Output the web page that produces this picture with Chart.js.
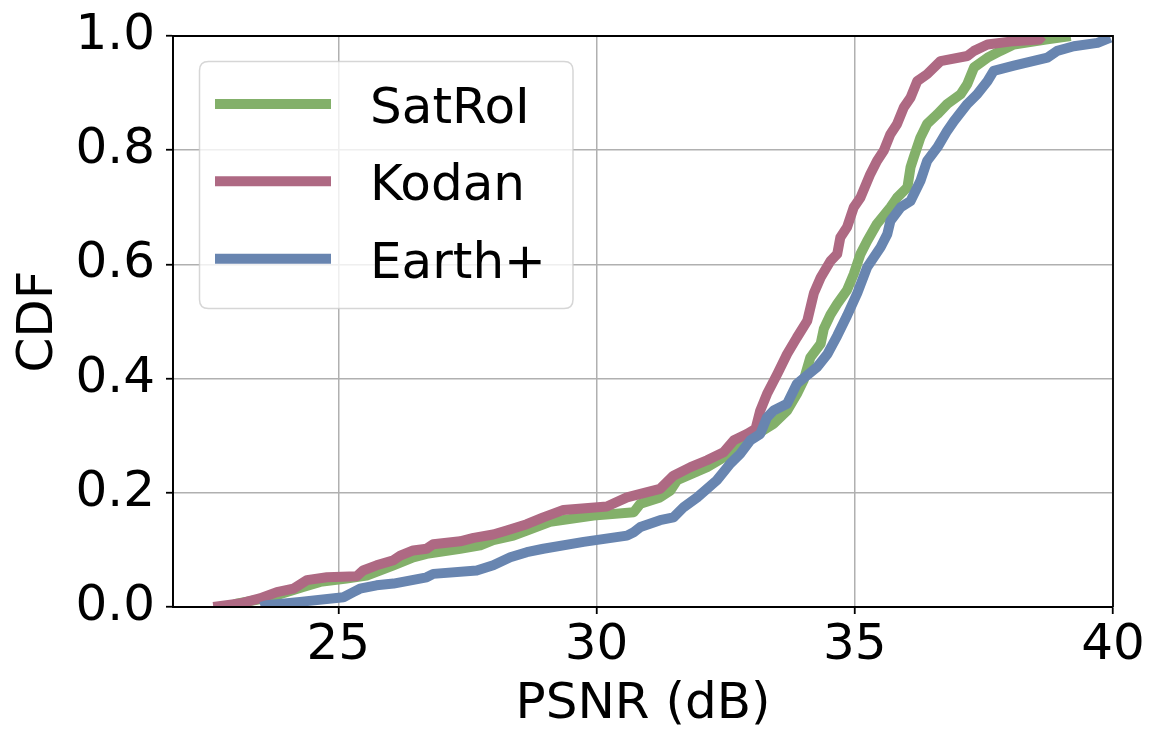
<!DOCTYPE html>
<html>
<head>
<meta charset="utf-8">
<script src="https://cdn.jsdelivr.net/npm/chart.js@4/dist/chart.umd.min.js"></script>
<style>
html,body{margin:0;padding:0;background:#fff;}
#wrap{width:1162px;height:748px;position:relative;}
</style>
</head>
<body>
<div id="wrap"><canvas id="c" width="1162" height="748"></canvas></div>
<script>
// ---- data ----
const seriesNames = ["SatRoI", "Kodan", "Earth+"];
const seriesColors = ["#83b06a", "#ae6983", "#6885b0"];

const satroiX = [22.87, 23.03, 23.68, 24.32, 24.65, 25.16, 25.55, 26.07, 26.45, 26.71, 27.36, 27.75, 28.0, 28.39, 28.65, 29.10, 29.94, 30.72, 30.85, 31.23, 31.43, 31.56, 32.14, 32.46, 32.78, 33.11, 33.43, 33.69, 33.88, 34.01, 34.14, 34.34, 34.40, 34.53, 34.66, 34.85, 34.98, 35.11, 35.24, 35.43, 35.69, 35.82, 36.02, 36.08, 36.14, 36.27, 36.40, 36.60, 36.79, 37.05, 37.18, 37.31, 37.57, 37.82, 38.08, 38.73, 39.18];
const satroiY = [0, 0.006, 0.017, 0.035, 0.044, 0.05, 0.055, 0.073, 0.087, 0.093, 0.102, 0.108, 0.117, 0.125, 0.134, 0.149, 0.16, 0.166, 0.181, 0.192, 0.204, 0.222, 0.245, 0.262, 0.286, 0.303, 0.321, 0.344, 0.373, 0.397, 0.437, 0.461, 0.487, 0.512, 0.531, 0.555, 0.583, 0.618, 0.641, 0.671, 0.70, 0.717, 0.735, 0.77, 0.787, 0.822, 0.846, 0.863, 0.881, 0.898, 0.916, 0.945, 0.962, 0.974, 0.985, 0.994, 1.0];

const kodanX = [22.58, 23.09, 23.48, 23.81, 24.13, 24.39, 24.78, 25.36, 25.48, 25.74, 26.07, 26.20, 26.45, 26.71, 26.84, 27.36, 27.62, 28.0, 28.26, 28.65, 28.97, 29.36, 30.20, 30.59, 30.85, 31.23, 31.49, 31.82, 32.14, 32.46, 32.66, 32.91, 33.08, 33.17, 33.30, 33.50, 33.69, 33.88, 34.08, 34.21, 34.34, 34.53, 34.66, 34.72, 34.85, 34.98, 35.11, 35.30, 35.43, 35.56, 35.69, 35.82, 35.95, 36.08, 36.21, 36.40, 36.66, 37.18, 37.31, 37.57, 38.08, 38.57, 38.63];
const kodanY = [0, 0.006, 0.015, 0.026, 0.032, 0.047, 0.052, 0.054, 0.064, 0.073, 0.082, 0.09, 0.099, 0.102, 0.11, 0.115, 0.121, 0.127, 0.134, 0.145, 0.157, 0.17, 0.176, 0.192, 0.198, 0.207, 0.23, 0.245, 0.257, 0.271, 0.292, 0.303, 0.312, 0.344, 0.373, 0.408, 0.443, 0.472, 0.501, 0.55, 0.577, 0.606, 0.618, 0.647, 0.665, 0.70, 0.717, 0.758, 0.781, 0.799, 0.828, 0.846, 0.875, 0.892, 0.921, 0.933, 0.956, 0.965, 0.974, 0.985, 0.991, 0.994, 1.0];

const earthX = [23.5, 23.61, 24.26, 25.10, 25.29, 25.42, 25.74, 26.07, 26.71, 26.84, 27.68, 28.0, 28.33, 28.65, 28.97, 29.75, 30.59, 30.72, 30.85, 31.23, 31.49, 31.69, 31.95, 32.33, 32.59, 32.78, 32.98, 33.17, 33.30, 33.43, 33.69, 33.88, 34.27, 34.47, 34.66, 34.85, 35.05, 35.24, 35.50, 35.63, 35.69, 35.89, 36.08, 36.27, 36.40, 36.60, 36.79, 36.92, 37.18, 37.37, 37.57, 37.69, 38.08, 38.73, 38.92, 39.24, 39.70, 39.95];
const earthY = [0, 0.003, 0.009, 0.017, 0.026, 0.032, 0.038, 0.041, 0.052, 0.058, 0.064, 0.073, 0.087, 0.096, 0.102, 0.114, 0.125, 0.131, 0.14, 0.152, 0.157, 0.175, 0.192, 0.222, 0.251, 0.268, 0.292, 0.303, 0.332, 0.344, 0.356, 0.391, 0.42, 0.443, 0.475, 0.51, 0.55, 0.595, 0.63, 0.653, 0.676, 0.70, 0.711, 0.746, 0.781, 0.805, 0.834, 0.851, 0.881, 0.898, 0.921, 0.939, 0.948, 0.962, 0.974, 0.982, 0.988, 0.997];

const xTicks = [25, 30, 35, 40];
const yTicks = [0.0, 0.2, 0.4, 0.6, 0.8, 1.0];
const xRange = [21.8, 40];
const yRange = [0, 1];
const xTitle = "PSNR (dB)";
const yTitle = "CDF";

// ---- build ----
function pts(xs, ys){ return xs.map((x,i)=>({x:x, y:ys[i]})); }
const seriesData = [pts(satroiX, satroiY), pts(kodanX, kodanY), pts(earthX, earthY)];
const FONT = "DejaVu Sans";

const datasets = seriesData.map((d,i)=>({
  label: seriesNames[i],
  data: d,
  borderColor: seriesColors[i],
  backgroundColor: seriesColors[i],
  borderWidth: 10,
  pointRadius: 0,
  showLine: true,
  fill: false,
  tension: 0,
  borderJoinStyle: 'round',
  borderCapStyle: 'butt',
  clip: 0,
  order: seriesNames.length - i   // later series drawn on top, like matplotlib
}));

const framePlugin = {
  id: 'frame',
  afterDatasetsDraw(chart){
    const {ctx, chartArea:a} = chart;
    ctx.save();
    ctx.strokeStyle = '#000';
    ctx.lineWidth = 1.8;
    ctx.beginPath();
    ctx.moveTo(a.left, a.top); ctx.lineTo(a.right, a.top); ctx.lineTo(a.right, a.bottom);
    ctx.moveTo(a.left, a.top); ctx.lineTo(a.left, a.bottom); ctx.lineTo(a.right, a.bottom);
    ctx.stroke();
    ctx.restore();
  }
};

const legendPlugin = {
  id: 'boxLegend',
  afterDraw(chart){
    const ctx = chart.ctx;
    const bx = 199.5, by = 61.5, bw = 373.5, bh = 247, r = 9;
    ctx.save();
    ctx.beginPath();
    ctx.moveTo(bx + r, by);
    ctx.lineTo(bx + bw - r, by); ctx.quadraticCurveTo(bx + bw, by, bx + bw, by + r);
    ctx.lineTo(bx + bw, by + bh - r); ctx.quadraticCurveTo(bx + bw, by + bh, bx + bw - r, by + bh);
    ctx.lineTo(bx + r, by + bh); ctx.quadraticCurveTo(bx, by + bh, bx, by + bh - r);
    ctx.lineTo(bx, by + r); ctx.quadraticCurveTo(bx, by, bx + r, by);
    ctx.closePath();
    ctx.fillStyle = 'rgba(255,255,255,0.8)';
    ctx.fill();
    ctx.strokeStyle = 'rgba(204,204,204,0.8)';
    ctx.lineWidth = 1.5;
    ctx.stroke();
    const rowY = [104, 181.3, 258.7];
    seriesNames.forEach((name, i) => {
      const y = rowY[i];
      ctx.strokeStyle = seriesColors[i];
      ctx.lineWidth = 10;
      ctx.lineCap = 'butt';
      ctx.beginPath(); ctx.moveTo(215, y); ctx.lineTo(331, y); ctx.stroke();
      ctx.fillStyle = '#000';
      ctx.font = '50px "' + FONT + '"';
      ctx.textBaseline = 'alphabetic';
      ctx.textAlign = 'left';
      ctx.fillText(name, 370, y + 19);
    });
    ctx.restore();
  }
};

new Chart(document.getElementById('c'), {
  type: 'scatter',
  data: { datasets },
  plugins: [framePlugin, legendPlugin],
  options: {
    responsive: false,
    animation: false,
    events: [],
    layout: { padding: { top: 35, right: 49, left: 0, bottom: 0 } },
    plugins: { legend: { display: false }, tooltip: { enabled: false }, title: { display: false } },
    scales: {
      x: {
        type: 'linear',
        min: xRange[0], max: xRange[1],
        afterBuildTicks(s){ s.ticks = xTicks.map(v=>({value:v})); },
        afterFit(s){ s.height = 141; },
        ticks: { color: '#000', font: { family: FONT, size: 50, lineHeight: 1 }, padding: 7, maxRotation: 0, autoSkip: false,
                 callback: v => String(v) },
        grid: { color: '#b0b0b0', lineWidth: 1.5, tickColor: '#000', tickWidth: 1.8, tickLength: 7 },
        border: { color: '#000', width: 1.8 },
        title: { display: true, text: xTitle, color: '#000', font: { family: FONT, size: 50, lineHeight: 1.2 }, padding: { top: 0, bottom: 13 } }
      },
      y: {
        type: 'linear',
        min: yRange[0], max: yRange[1],
        afterBuildTicks(s){ s.ticks = yTicks.map(v=>({value:v})); },
        afterFit(s){ s.width = 173; },
        ticks: { color: '#000', font: { family: FONT, size: 50, lineHeight: 1 }, padding: 11, autoSkip: false,
                 callback: v => Number(v).toFixed(1) },
        grid: { color: '#b0b0b0', lineWidth: 1.5, tickColor: '#000', tickWidth: 1.8, tickLength: 7 },
        border: { color: '#000', width: 1.8 },
        title: { display: true, text: yTitle, color: '#000', font: { family: FONT, size: 50, lineHeight: 1.2 }, padding: { top: 9, bottom: 0 } }
      }
    }
  }
});
</script>
</body>
</html>
